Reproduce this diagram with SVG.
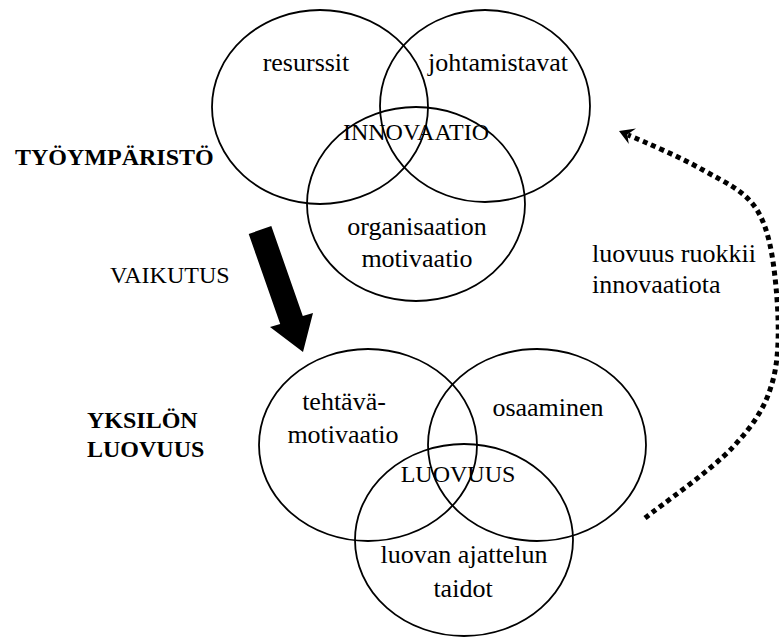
<svg xmlns="http://www.w3.org/2000/svg" width="779" height="637" viewBox="0 0 779 637">
<style>
.c{fill:none;stroke:#000;stroke-width:1.8}
.t{font-size:26px;text-anchor:middle}
.cap{font-size:24px;text-anchor:middle}
.b{font-size:24px;font-weight:bold}
.l{font-size:24px}
</style>
<rect width="779" height="637" fill="#fff"/>
<g font-family="'Liberation Serif', 'Times New Roman', 'DejaVu Serif', serif" fill="#000">
<g id="top-venn">
<g id="resurssit"><ellipse class="c" cx="320" cy="107" rx="108" ry="97"/><text class="t" x="306" y="71">resurssit</text></g>
<g id="johtamistavat"><ellipse class="c" cx="485" cy="106" rx="105" ry="96"/><text class="t" x="498" y="71">johtamistavat</text></g>
<g id="organisaation"><ellipse class="c" cx="416" cy="204" rx="109" ry="97"/><text class="t" x="417" y="235">organisaation</text><text class="t" x="417" y="267">motivaatio</text></g>
<g id="innovaatio"><text class="cap" x="416" y="140">INNOVAATIO</text></g>
</g>
<g id="bottom-venn">
<g id="tehtava"><ellipse class="c" cx="368" cy="445" rx="109" ry="96"/><text class="t" x="344" y="410">tehtävä-</text><text class="t" x="343" y="443">motivaatio</text></g>
<g id="osaaminen"><ellipse class="c" cx="537" cy="445" rx="109" ry="96"/><text class="t" x="548" y="416">osaaminen</text></g>
<g id="luovan"><ellipse class="c" cx="464" cy="540" rx="109" ry="96"/><text class="t" x="464" y="563">luovan ajattelun</text><text class="t" x="463" y="597">taidot</text></g>
<g id="luovuus"><text class="cap" x="458" y="482">LUOVUUS</text></g>
</g>
<g id="labels">
<text class="b" x="15" y="165">TYÖYMPÄRISTÖ</text>
<text class="l" x="110" y="283">VAIKUTUS</text>
<text class="b" x="87" y="428">YKSILÖN</text>
<text class="b" x="87" y="457">LUOVUUS</text>
<text class="t" x="592" y="262" style="text-anchor:start">luovuus ruokkii</text>
<text class="t" x="592" y="293" style="text-anchor:start">innovaatiota</text>
</g>
</g>
<g id="connectors">
<polygon points="248.7,234 271.3,226 302.8,316 313,313 303,352 270,327 280.2,324" fill="#000"/>
<path d="M645,518 C659.7,506.2 711.7,470 733,447 C754.3,424 765.8,406.7 773,380 C780.2,353.3 778.7,315.3 776,287 C773.3,258.7 769.2,229.5 757,210 C744.8,190.5 725.5,182.8 703,170 C680.5,157.2 645,142 628,135" fill="none" stroke="#000" stroke-width="5" stroke-dasharray="5,4"/>
<polygon points="619,131 636,128.5 627.3,134.5 628.8,144" fill="#000"/>
</g>
</svg>
